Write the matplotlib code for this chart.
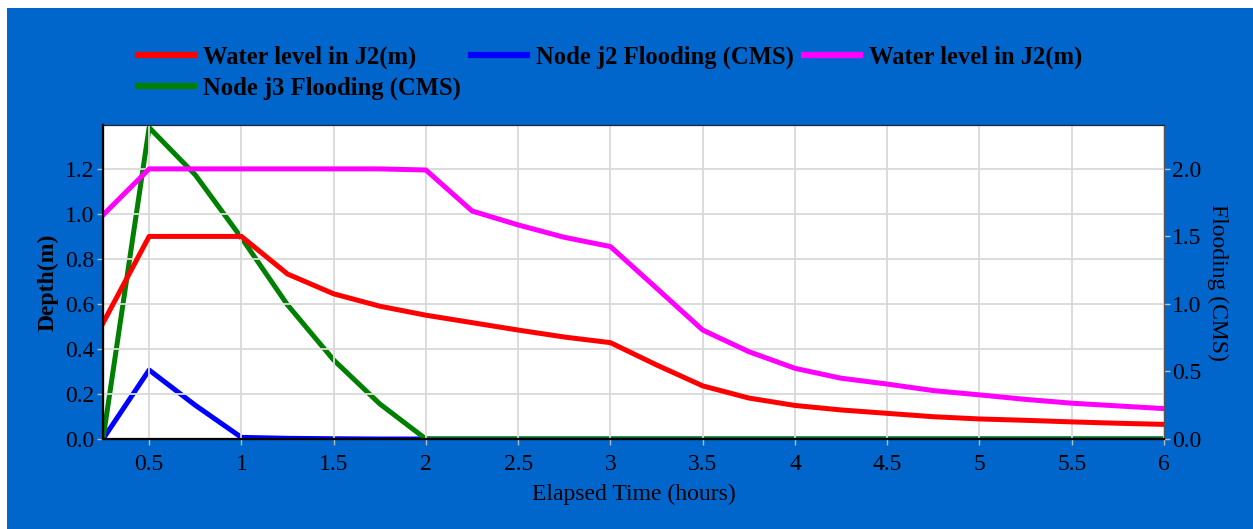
import matplotlib.pyplot as plt
from matplotlib.patches import Rectangle

hours = [0.25, 0.5, 0.75, 1.0, 1.25, 1.5, 1.75, 2.0, 2.25, 2.5, 2.75, 3.0,
         3.25, 3.5, 3.75, 4.0, 4.25, 4.5, 4.75, 5.0, 5.25, 5.5, 5.75, 6.0]

# depths (left axis)
level_j2 = [0.515, 0.90, 0.90, 0.90, 0.733, 0.645, 0.59, 0.55, 0.517, 0.484, 0.453, 0.428,
            0.329, 0.236, 0.182, 0.149, 0.129, 0.114, 0.099, 0.089, 0.083, 0.076, 0.07, 0.065]
level_j2_b = [0.995, 1.20, 1.20, 1.20, 1.20, 1.20, 1.20, 1.195, 1.013, 0.951, 0.896, 0.855,
              0.67, 0.484, 0.388, 0.314, 0.27, 0.244, 0.215, 0.196, 0.176, 0.159, 0.147, 0.135]

# flooding (right axis)
flood_j2 = [0.0, 0.511, 0.25, 0.012, 0.005, 0.002, 0.0, 0.0, 0.0, 0.0, 0.0, 0.0,
            0.0, 0.0, 0.0, 0.0, 0.0, 0.0, 0.0, 0.0, 0.0, 0.0, 0.0, 0.0]
flood_j3 = [0.0, 2.306, 1.956, 1.49, 0.993, 0.585, 0.26, 0.0, 0.0, 0.0, 0.0, 0.0,
            0.0, 0.0, 0.0, 0.0, 0.0, 0.0, 0.0, 0.0, 0.0, 0.0, 0.0, 0.0]

labels = ["Water level in J2(m)", "Node j2 Flooding (CMS)",
          "Water level in J2(m)", "Node j3 Flooding (CMS)"]

plt.rcParams["font.family"] = "Liberation Serif"
bg = "#0066cc"

fig = plt.figure(figsize=(12.53, 5.29), dpi=100)
fig.patch.set_facecolor("white")
fig.patches.append(Rectangle((7 / 1253, 0), 1, (529 - 8) / 529, transform=fig.transFigure,
                             facecolor=bg, edgecolor="none", zorder=-10))

ax = fig.add_axes([103 / 1253, 90 / 529, 1061 / 1253, 314 / 529])
ax2 = ax.twinx()
ax2.set_zorder(0)
ax.set_zorder(1)
ax.patch.set_visible(False)
ax2.patch.set_facecolor("white")
ax2.patch.set_visible(True)

lw = 3.6
l1, = ax.plot(hours, level_j2, color="#ff0000", lw=lw)
l3, = ax.plot(hours, level_j2_b, color="#ff00ff", lw=lw)
l2, = ax2.plot(hours, flood_j2, color="#0000ff", lw=lw)
l4, = ax2.plot(hours, flood_j3, color="#008000", lw=lw)

ax.set_xlim(0.25, 6)
ax.set_ylim(0, 1.395)
ax2.set_ylim(0, 1.395 * 5 / 3)
ax.set_xticks([0.5, 1, 1.5, 2, 2.5, 3, 3.5, 4, 4.5, 5, 5.5, 6])
ax.set_xticklabels(["0.5", "1", "1.5", "2", "2.5", "3", "3.5", "4", "4.5", "5", "5.5", "6"])
ax.set_yticks([0, 0.2, 0.4, 0.6, 0.8, 1.0, 1.2])
ax2.set_yticks([0, 0.5, 1.0, 1.5, 2.0])
ax.yaxis.set_major_formatter(plt.FormatStrFormatter("%.1f"))
ax2.yaxis.set_major_formatter(plt.FormatStrFormatter("%.1f"))

ax2.grid(False)
ax.grid(True, color="#d9d9d9", lw=1.3)
ax.set_axisbelow(True)

for a in (ax, ax2):
    a.tick_params(labelsize=17, labelcolor="black", color="#bbbbbb", length=4, width=1, pad=2)
ax.tick_params(axis="x", pad=7)
ax.spines["left"].set_linewidth(1.6)
ax.spines["left"].set_color("black")
ax.spines["bottom"].set_linewidth(1.6)
ax.spines["bottom"].set_color("black")
ax.spines["top"].set_color("#222222")
ax.spines["right"].set_color("#555555")
ax2.spines["right"].set_color("#555555")

ax.set_xlabel("Elapsed Time (hours)", fontsize=17, labelpad=6)
ax.set_ylabel("Depth(m)", fontsize=17, fontweight="bold", labelpad=5)
ax2.set_ylabel("Flooding (CMS)", fontsize=17, rotation=270, labelpad=19)

# row-major legend: matplotlib fills columns first
leg = fig.legend(handles=[l1, l4, l2, l3], labels=[labels[0], labels[3], labels[1], labels[2]],
                 ncol=3, loc="upper left",
                 bbox_to_anchor=(138 / 1253, 1 - 46 / 529), frameon=False,
                 prop={"weight": "bold", "size": 17.7}, handlelength=2.28, handletextpad=0.36,
                 columnspacing=0.42, labelspacing=0.28, borderaxespad=0, borderpad=0)
for h in leg.get_lines():
    h.set_linewidth(4.5)

plt.savefig("out.png", dpi=100, facecolor=fig.get_facecolor())
